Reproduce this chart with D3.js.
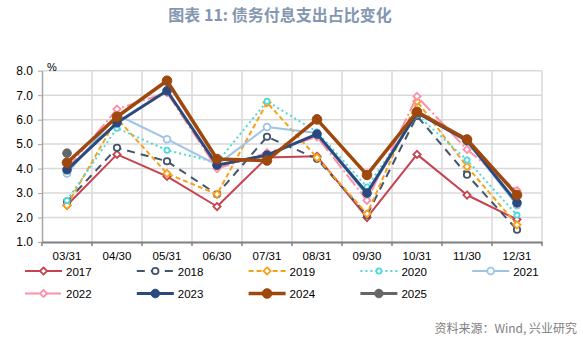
<!DOCTYPE html>
<html><head><meta charset="utf-8">
<script src="https://cdn.jsdelivr.net/npm/d3@7"></script>
<style>
html,body{margin:0;padding:0;background:#fff;}
svg{display:block;}
</style></head>
<body>
<svg id="chart" width="583" height="341"></svg>
<script>
const categories = ["03/31","04/30","05/31","06/30","07/31","08/31","09/30","10/31","11/30","12/31"];
const yTicks = [1,2,3,4,5,6,7,8];
const years = ["2017","2018","2019","2020","2021","2022","2023","2024","2025"];
const s2017 = [2.50, 4.58, 3.68, 2.45, 4.45, 4.50, 2.00, 4.58, 2.92, 1.92];
const s2018 = [2.65, 4.85, 4.30, 2.95, 5.30, 4.40, 2.10, 6.15, 3.75, 1.50];
const s2019 = [2.50, 6.05, 3.80, 2.95, 6.70, 4.45, 2.15, 6.75, 4.08, 1.70];
const s2020 = [2.70, 5.65, 4.75, 4.25, 6.75, 5.50, 3.25, 6.20, 4.35, 2.10];
const s2021 = [3.80, 6.20, 5.20, 4.15, 5.70, 5.45, 2.90, 6.30, 5.10, 2.50];
const s2022 = [4.00, 6.43, 7.10, 4.00, 4.65, 5.30, 2.70, 6.95, 4.78, 3.10];
const s2023 = [3.95, 5.87, 7.18, 4.14, 4.55, 5.41, 3.00, 6.28, 5.15, 2.60];
const s2024 = [4.24, 6.12, 7.59, 4.39, 4.33, 6.01, 3.74, 6.32, 5.19, 2.92];
const s2025 = [4.63];
const title = "图表 11: 债务付息支出占比变化";
const source = "资料来源：Wind, 兴业研究";
const unit = "%";

const seriesValues = [s2017,s2018,s2019,s2020,s2021,s2022,s2023,s2024,s2025];
const styles = [
  {color:"#C8414F", w:2,   dash:null,        marker:"diamond", fill:"#fff", r:3.6},
  {color:"#44546A", w:2,   dash:"8,6",       marker:"circle",  fill:"#fff", r:3.2},
  {color:"#F7A11A", w:2,   dash:"5,3",       marker:"diamond", fill:"#fff", r:3.6},
  {color:"#4FD8DC", w:2,   dash:"2,3",       marker:"circle",  fill:"#fff", r:2.6},
  {color:"#9DC3E6", w:2,   dash:null,        marker:"circle",  fill:"#fff", r:3.4},
  {color:"#FF8FA6", w:2,   dash:"14,3,2,3",  marker:"diamond", fill:"#fff", r:3.6},
  {color:"#2A4A7F", w:3,   dash:null,        marker:"circle",  fill:"#2A4A7F", r:4.3},
  {color:"#9E480E", w:3.5, dash:null,        marker:"circle",  fill:"#9E480E", r:4.8},
  {color:"#666666", w:3,   dash:null,        marker:"circle",  fill:"#666666", r:4.3}
];

const svg = d3.select("#chart");
const mL = 42, mR = 542, mT = 70.7, mB = 242;
const x = d3.scaleBand().domain(categories).range([mL, mR]).padding(0);
const y = d3.scaleLinear().domain([1, 8]).range([mB, mT]);
const cx = d => x(d) + x.bandwidth()/2;

// title
svg.append("text").attr("x", 280).attr("y", 21).attr("text-anchor","middle")
  .attr("font-family","'Noto Sans CJK SC', sans-serif").attr("font-weight","bold")
  .attr("font-size",16).attr("fill","#8497B0").text(title);

// gridlines
const grid = svg.append("g");
grid.selectAll("line.h").data(yTicks.filter(t => t > 1)).enter().append("line")
  .attr("x1", mL).attr("x2", mR).attr("y1", d => y(d)).attr("y2", d => y(d))
  .attr("stroke","#D9D9D9").attr("stroke-width",1.5);
const bounds = categories.map(c => x(c) + x.bandwidth());
grid.selectAll("line.v").data(bounds).enter().append("line")
  .attr("x1", d => d).attr("x2", d => d).attr("y1", mT).attr("y2", mB)
  .attr("stroke","#D9D9D9").attr("stroke-width",1.5);

// y axis
const yAxis = svg.append("g").attr("transform",`translate(${mL},0)`)
  .call(d3.axisLeft(y).tickValues(yTicks).tickFormat(d3.format(".1f")).tickSize(4).tickSizeOuter(0));
yAxis.select(".domain").attr("stroke","#A6A6A6").attr("stroke-width",1.5);
yAxis.selectAll(".tick line").attr("stroke","#A6A6A6");
yAxis.selectAll("text").attr("font-family","'Liberation Sans', Arial, sans-serif")
  .attr("font-size",12).attr("fill","#000").attr("x",-9);

// x axis
const xAxis = svg.append("g").attr("transform",`translate(0,${mB})`)
  .call(d3.axisBottom(x).tickSize(0).tickPadding(10));
xAxis.select(".domain").attr("stroke","#7F7F7F").attr("stroke-width",2);
xAxis.selectAll("text").attr("font-family","'Liberation Sans', Arial, sans-serif")
  .attr("font-size",11.5).attr("fill","#000");
svg.append("g").selectAll("line").data([mL].concat(bounds)).enter().append("line")
  .attr("x1", d => d).attr("x2", d => d).attr("y1", mB).attr("y2", mB + 4)
  .attr("stroke","#7F7F7F").attr("stroke-width",1.5);

// unit
svg.append("text").attr("x", 47).attr("y", 71).attr("font-family","'Liberation Sans', Arial, sans-serif")
  .attr("font-size",11).attr("fill","#000").text(unit);

// series
const line = d3.line().x((d,i) => cx(categories[i])).y(d => y(d));
function drawMarker(g, px, py, st) {
  if (st.marker === "diamond") {
    const s = st.r;
    g.append("path").attr("d", `M${px},${py-s}L${px+s},${py}L${px},${py+s}L${px-s},${py}Z`)
      .attr("fill", st.fill).attr("stroke", st.color).attr("stroke-width", 1.8);
  } else {
    g.append("circle").attr("cx", px).attr("cy", py).attr("r", st.r)
      .attr("fill", st.fill).attr("stroke", st.color).attr("stroke-width", st.fill === "#fff" ? 1.8 : 1);
  }
}
const plot = svg.append("g");
seriesValues.forEach((vals, k) => {
  const st = styles[k];
  const g = plot.append("g");
  if (vals.length > 1) {
    g.append("path").datum(vals).attr("d", line).attr("fill","none")
      .attr("stroke", st.color).attr("stroke-width", st.w)
      .attr("stroke-dasharray", st.dash).attr("stroke-linejoin","round");
  }
  vals.forEach((v, i) => drawMarker(g, cx(categories[i]), y(v), st));
});

// legend
const legend = svg.append("g");
years.forEach((yr, k) => {
  const st = styles[k];
  const row = Math.floor(k / 5), col = k % 5;
  const lx = 25 + col * 111.8, ly = 271 + row * 22.5;
  const g = legend.append("g");
  g.append("line").attr("x1", lx).attr("x2", lx + 37).attr("y1", ly).attr("y2", ly)
    .attr("stroke", st.color).attr("stroke-width", st.w).attr("stroke-dasharray", st.dash);
  drawMarker(g, lx + 18.5, ly, st);
  g.append("text").attr("x", lx + 41).attr("y", ly + 4.5)
    .attr("font-family","'Liberation Sans', Arial, sans-serif").attr("font-size",11.5)
    .attr("fill","#000").text(yr);
});

// source
svg.append("text").attr("x", 577).attr("y", 333).attr("text-anchor","end")
  .attr("font-family","'Noto Sans CJK SC', sans-serif").attr("font-size",12)
  .attr("fill","#808080").text(source);
</script>
</body></html>
